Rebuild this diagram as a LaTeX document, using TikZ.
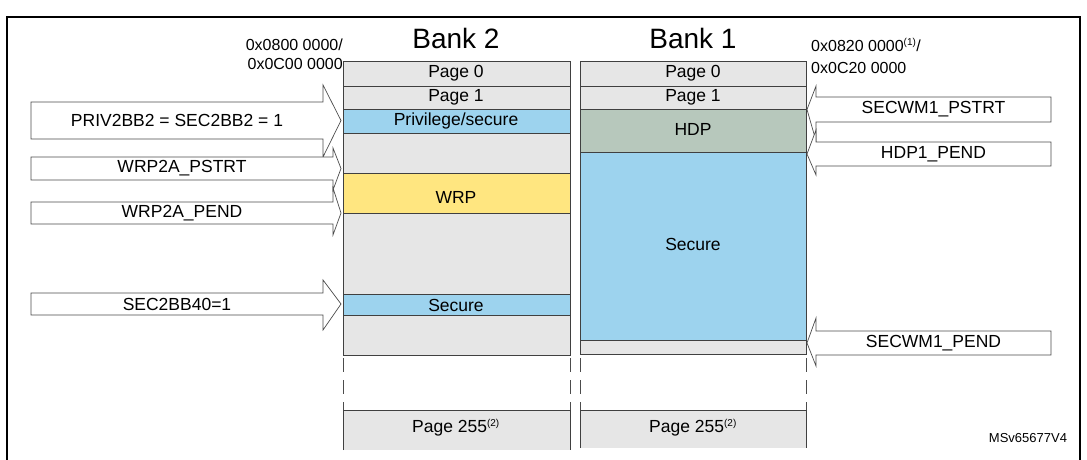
\documentclass[tikz,border=0pt]{standalone}
\usepackage{fontspec}
\setmainfont{Liberation Sans}
\definecolor{pg}{HTML}{E6E6E6}
\definecolor{bl}{HTML}{9DD3EE}
\definecolor{yl}{HTML}{FFE680}
\definecolor{hd}{HTML}{B7C8BC}
\newcommand\LArr[8]{% x0 xb tip y1 y2 ht hb text
 \draw[arr] (#1,#4) -- (#2,#4) -- (#2,#6) -- (#3,{(#4+#5)/2}) -- (#2,#7) -- (#2,#5) -- (#1,#5) -- cycle;
 \node[lab] at ({(#1+#2)/2},{(#4+#5)/2}) {#8};}
\newcommand\SupN[1]{\textsuperscript{\fontsize{10}{10}\selectfont(#1)}}
\begin{document}
\begin{tikzpicture}[x=1pt,y=-1pt,
 cell/.style={draw=black!75,line width=0.8pt},
 arr/.style={draw=black!70,fill=white,line width=0.7pt},
 lab/.style={font=\fontsize{17.5}{17.5}\selectfont,inner sep=0pt},
 cl/.style={font=\fontsize{17.5}{17.5}\selectfont,inner sep=0pt},
 addr/.style={font=\fontsize{16}{16}\selectfont,inner sep=0pt}]
\useasboundingbox (0,0) rectangle (1087,460);
\draw[line width=1.3pt] (7,470) -- (7,17) -- (1080,17) -- (1080,470);
\node[font=\fontsize{28}{28}\selectfont] (b2) at (456,38) {Bank 2};
\node[font=\fontsize{28}{28}\selectfont] (b1) at (693,38) {Bank 1};
\node[addr,anchor=east] (a1) at (343,45) {0x0800 0000/};
\node[addr,anchor=east] (a2) at (343,64) {0x0C00 0000};
\node[addr,anchor=west] (a3) at (811,45) {0x0820 0000\SupN{1}/};
\node[addr,anchor=west] (a4) at (811,68) {0x0C20 0000};
% bank 2 cells
\fill[pg] (343,61) rectangle (570,355);
\fill[bl] (343,109) rectangle (570,133);
\fill[yl] (343,173) rectangle (570,213);
\fill[bl] (343,294) rectangle (570,315);
\draw[cell] (343,61) rectangle (570,355);
\foreach \y in {86,109,133,173,213,294,315} \draw[cell] (343,\y) -- (570,\y);
\node[cl] at (456,73) {Page 0};
\node[cl] at (456,97) {Page 1};
\node[cl] at (456,121) {Privilege/secure};
\node[cl] at (456,197) {WRP};
\node[cl] at (456,305) {Secure};
% bank 1 cells
\fill[pg] (580,61) rectangle (806,354);
\fill[hd] (580,109) rectangle (806,152);
\fill[bl] (580,152) rectangle (806,340);
\draw[cell] (580,61) rectangle (806,354);
\foreach \y in {86,109,152,340} \draw[cell] (580,\y) -- (806,\y);
\node[cl] at (693,73) {Page 0};
\node[cl] at (693,97) {Page 1};
\node[cl] at (693,129) {HDP};
\node[cl] at (693,244) {Secure};
% dashed
\foreach \x in {343,570,580,806} \draw[black!70,dash pattern=on 14pt off 8pt,line width=0.8pt] (\x,358) -- (\x,410);
\fill[pg] (343,410) rectangle (570,450);
\draw[cell] (343,450) -- (343,410) -- (570,410) -- (570,450);
\fill[pg] (580,410) rectangle (806,448);
\draw[cell] (580,448) -- (580,410) -- (806,410) -- (806,448);
\node[cl] at (456,428) {Page 255\SupN{2}};
\node[cl] at (693,428) {Page 255\SupN{2}};
% left arrows
\LArr{31}{323}{341}{102}{139}{85}{157}{PRIV2BB2 = SEC2BB2 = 1}
\LArr{31}{333}{341}{157}{180}{148}{190}{WRP2A\_PSTRT}
\LArr{31}{333}{341}{202}{224}{188}{235}{WRP2A\_PEND}
\LArr{31}{323}{341}{293}{315}{280}{330}{SEC2BB40=1}
% right arrows
\LArr{1051}{816}{807}{97}{122}{86}{141}{SECWM1\_PSTRT}
\LArr{1051}{816}{807}{142}{166}{130}{175}{HDP1\_PEND}
\LArr{1051}{816}{807}{331}{355}{318}{366}{SECWM1\_PEND}
\node[font=\fontsize{13}{13}\selectfont] (ms) at (1028,438) {MSv65677V4};
\end{tikzpicture}
\end{document}
